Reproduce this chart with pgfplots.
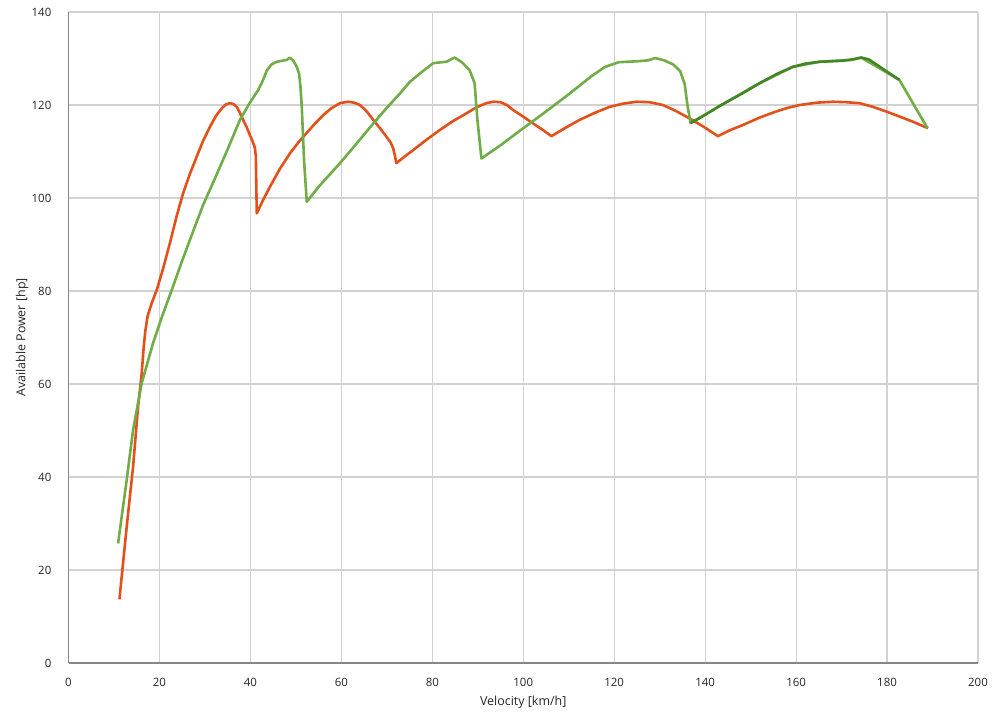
\documentclass[border=0pt]{standalone}
\usepackage{pgfplots}
\pgfplotsset{compat=1.18}
\usepackage{fontspec}
\setmainfont{Open Sans}

\definecolor{gearOrange}{RGB}{228,80,26}
\definecolor{gearGreen}{RGB}{112,173,71}
\definecolor{gearDark}{RGB}{68,134,38}
\definecolor{gridGray}{RGB}{210,210,210}
\definecolor{axisGray}{RGB}{134,134,134}

\begin{document}
\begin{tikzpicture}
\begin{axis}[
    at={(68.5bp,52bp)}, anchor=south west,
    scale only axis,
    width=909.5bp, height=651bp,
    xmin=0, xmax=200, ymin=0, ymax=140,
    xtick={0,20,...,200}, ytick={0,20,...,140},
    axis x line*=bottom, axis y line*=left,
    axis line style={axisGray, line width=1.2bp, -},
    major tick length=0pt,
    grid=major,
    major grid style={gridGray, line width=1.2bp},
    /pgf/number format/assume math mode=true,
    tick label style={font=\fontsize{11.5}{13}\selectfont, text=black!85},
    xticklabel style={anchor=center, inner sep=0pt, yshift=-19bp},
    yticklabel style={anchor=east, inner sep=0pt, xshift=-17bp},
    label style={font=\fontsize{12.5}{14}\selectfont, text=black!85},
    xlabel={Velocity [km/h]},
    ylabel={Available Power [hp]},
    xlabel style={at={(axis description cs:0.5,-0.0599)}, anchor=center},
    ylabel style={at={(axis description cs:-0.0511,0.5)}, anchor=center},
    every axis plot/.append style={line width=2.6bp, line join=round},
  ]

  % gear curve A (orange)
  \addplot[gearOrange] coordinates {
    (11.2,13.7) (12.8,29.3) (14.2,42.2) (15.3,55.1) (16.1,62.3) (16.5,67.5)
    (16.9,71.5) (17.4,74.6) (18.3,77.4) (19.4,80.2) (20.8,84.8) (22.3,90.3)
    (23.7,95.8) (25.2,101.0) (26.7,105.2) (28.2,108.9) (29.6,112.3) (31.1,115.3)
    (32.4,117.6) (33.7,119.3) (34.6,120.1) (35.5,120.4) (36.3,120.2) (37.0,119.6)
    (37.7,118.3) (38.4,116.8) (39.2,115.2) (39.9,113.5) (40.6,111.9) (41.0,110.7)
    (41.2,108.9) (41.4,96.7)
    (42.8,99.6) (44.3,102.4) (46.5,106.3) (48.7,109.6) (50.5,111.9) (52.3,113.9)
    (54.2,116.0) (56.0,117.8) (57.8,119.3) (59.7,120.4) (61.5,120.7) (62.8,120.5)
    (64.1,120.0) (65.6,118.6) (67.0,116.8) (68.5,115.0) (69.9,113.2) (70.8,112.0)
    (71.4,110.7) (71.8,109.0) (72.1,107.5)
    (73.9,108.9) (75.8,110.3) (78.7,112.5) (81.6,114.6) (84.5,116.5) (87.5,118.2)
    (89.7,119.5) (91.9,120.4) (93.4,120.7) (95.0,120.6) (96.4,120.0) (97.8,118.9)
    (100.0,117.5) (102.2,116.0) (104.2,114.7) (106.2,113.3)
    (109.3,115.1) (112.4,116.8) (115.7,118.3) (119.0,119.6) (122.0,120.3)
    (124.9,120.7) (127.8,120.6) (130.7,120.0) (133.6,118.7) (136.6,117.1)
    (139.7,115.3) (142.8,113.3)
    (145.5,114.6) (148.3,115.7) (152.0,117.3) (155.6,118.6) (158.2,119.4)
    (160.8,120.0) (164.5,120.5) (168.1,120.7) (171.0,120.6) (173.9,120.4)
    (176.9,119.6) (179.8,118.6) (182.8,117.5) (185.7,116.4) (189.0,115.0)
  };

  % gear curve B (green)
  \addplot[gearGreen] coordinates {
    (10.9,25.7) (12.8,39.4) (14.2,50.1) (16.1,60.2) (18.6,68.8) (20.6,74.6)
    (22.7,80.2) (24.8,86.0) (27.2,92.3) (29.6,98.5) (32.2,104.2) (35.0,110.5)
    (37.7,116.8) (39.7,120.2) (41.7,123.2) (42.8,125.4) (43.6,127.4) (44.6,128.7)
    (45.8,129.3) (48.0,129.7) (48.7,130.2) (49.5,129.4) (50.2,128.2) (50.7,126.8)
    (51.0,124.0) (51.3,119.6) (51.8,108.0) (52.4,99.2)
    (55.0,102.4) (59.7,107.5) (63.0,111.3) (67.0,116.0) (70.0,119.4) (72.9,122.5)
    (75.0,124.9) (77.3,126.8) (80.2,129.0) (83.1,129.3) (84.9,130.2) (86.5,129.2)
    (88.2,127.5) (89.3,124.7) (89.9,117.0) (90.8,108.5)
    (94.8,111.2) (100.0,115.0) (105.0,118.6) (110.0,122.3) (115.0,126.2)
    (118.0,128.2) (121.0,129.2) (125.0,129.4) (127.5,129.6) (129.0,130.1)
    (131.0,129.6) (133.0,128.7) (134.5,127.3) (135.5,124.5) (136.1,120.0)
    (136.8,116.1)
    (140.0,117.9) (143.2,119.8) (152.0,124.7) (159.3,128.2) (165.2,129.3)
    (172.1,129.7) (174.3,130.2) (182.7,125.4) (188.9,115.0)
  };

  % top gear (dark green)
  \addplot[gearDark] coordinates {
    (136.8,116.1) (140.0,117.9) (143.2,119.8) (148.0,122.4) (152.0,124.7)
    (156.0,126.8) (159.3,128.2) (162.0,128.9) (165.2,129.3) (170.0,129.5)
    (172.5,129.8) (174.3,130.2) (176.0,129.8) (182.7,125.4)
  };
\end{axis}
\pgfresetboundingbox
\path[use as bounding box] (0,0) rectangle (1000bp,715bp);
\end{tikzpicture}
\end{document}
